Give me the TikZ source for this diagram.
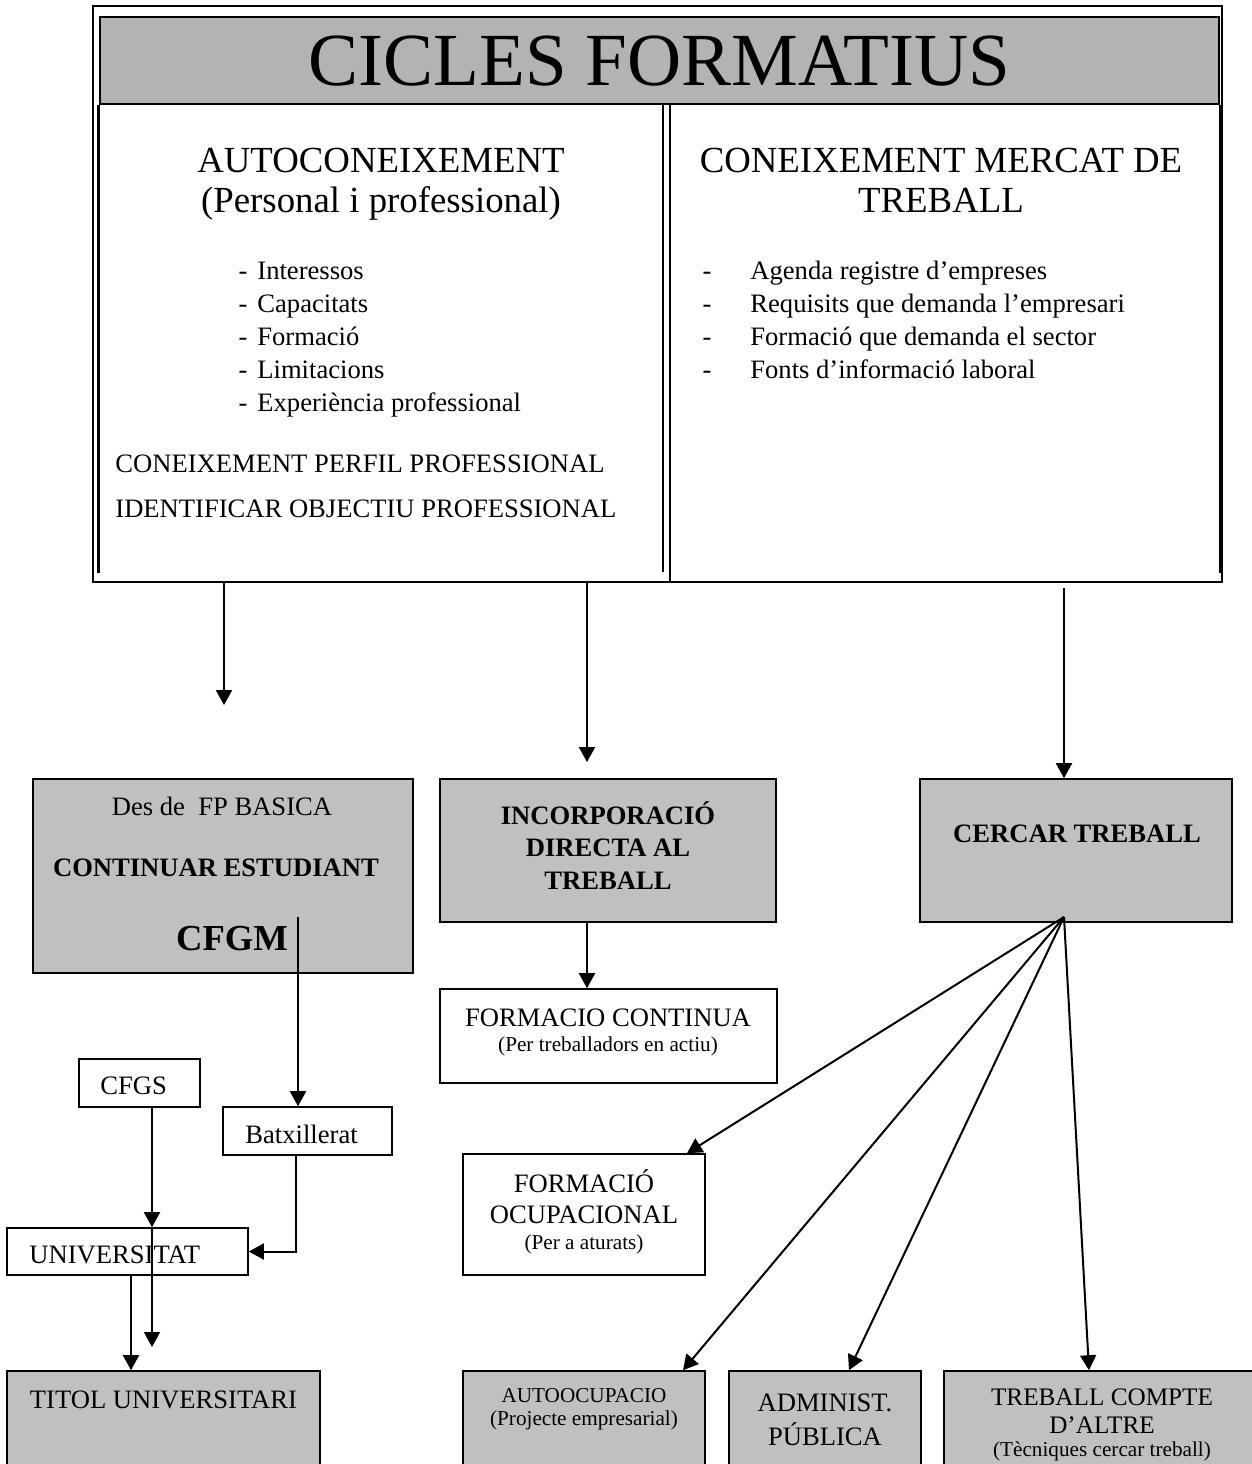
\documentclass[tikz,border=0pt]{standalone}
\usepackage{fontspec}
\setmainfont{Liberation Serif}
\usetikzlibrary{arrows.meta,fit}
\definecolor{hdrgray}{HTML}{B3B3B3}
\definecolor{boxgray}{HTML}{C0C0C0}
\tikzset{
 frameline/.style={line width=1.3pt},
 thinline/.style={line width=0.7pt},
 gbox/.style={draw, line width=0.8pt, fill=boxgray, inner sep=0pt},
 wbox/.style={draw, line width=0.8pt, fill=white, inner sep=0pt},
 arr/.style={line width=1pt, -{Triangle[length=7.5pt,width=8pt]}},
 bodytxt/.style={anchor=base, inner sep=0pt, font=\fontsize{13.3}{16}\selectfont},
 bodyl/.style={anchor=base west, inner sep=0pt, font=\fontsize{13.3}{16}\selectfont},
 bigtxt/.style={anchor=base, inner sep=0pt, font=\fontsize{18.4}{22}\selectfont},
 smalltxt/.style={anchor=base, inner sep=0pt, font=\fontsize{10.6}{13}\selectfont},
 boldtxt/.style={anchor=base, inner sep=0pt, font=\fontsize{13.3}{16}\selectfont\bfseries},
}
\begin{document}
\begin{tikzpicture}[x=0.5pt,y=-0.5pt]
\useasboundingbox (0,0) rectangle (1252,1464);
% ---- top frame ----
\node[fit={(93,6) (1222,582)}, draw, thinline, inner sep=0pt] (outer) {};
\node[fit={(100,17) (1219,104)}, draw, frameline, fill=hdrgray, inner sep=0pt] (hdr) {};
\draw[frameline] (hdr.south west) -- ++(0,468);
\draw[frameline] (hdr.south east) -- ++(0,468);
\draw[frameline] (663,104) -- (663,572);
\draw[thinline] (670,104) -- (670,582);
\node[anchor=base, inner sep=0pt, font=\fontsize{37.5}{44}\selectfont] (title) at (659.5,85) {CICLES FORMATIUS};
% left column
\node[bigtxt] (lh1) at (381,172) {AUTOCONEIXEMENT};
\node[bigtxt] (lh2) at (381,212) {(Personal i professional)};
\node[bodytxt] (ld1) at (243,279) {-};
\node[bodyl] (lb1) at (257,279) {Interessos};
\node[bodytxt] (ld2) at (243,312) {-};
\node[bodyl] (lb2) at (257,312) {Capacitats};
\node[bodytxt] (ld3) at (243,345) {-};
\node[bodyl] (lb3) at (257,345) {Formació};
\node[bodytxt] (ld4) at (243,378) {-};
\node[bodyl] (lb4) at (257,378) {Limitacions};
\node[bodytxt] (ld5) at (243,411) {-};
\node[bodyl] (lb5) at (257,411) {Experiència professional};
\node[bodyl] (ls1) at (115,472) {CONEIXEMENT PERFIL PROFESSIONAL};
\node[bodyl] (ls2) at (115,517) {IDENTIFICAR OBJECTIU PROFESSIONAL};
% right column
\node[bigtxt] (rh1) at (941,172) {CONEIXEMENT MERCAT DE};
\node[bigtxt] (rh2) at (941,212) {TREBALL};
\node[bodytxt] (rd1) at (707,279) {-};
\node[bodyl] (rb1) at (750,279) {Agenda registre d’empreses};
\node[bodytxt] (rd2) at (707,312) {-};
\node[bodyl] (rb2) at (750,312) {Requisits que demanda l’empresari};
\node[bodytxt] (rd3) at (707,345) {-};
\node[bodyl] (rb3) at (750,345) {Formació que demanda el sector};
\node[bodytxt] (rd4) at (707,378) {-};
\node[bodyl] (rb4) at (750,378) {Fonts d’informació laboral};
% ---- boxes ----
\node[gbox, fit={(33,779) (413,973)}] (cont) {};
\node[gbox, fit={(440,779) (776,922)}] (inc) {};
\node[gbox, fit={(920,779) (1232,922)}] (cerc) {};
\node[wbox, fit={(440,989) (777,1083)}] (fc) {};
\node[wbox, fit={(79,1059) (200,1107)}] (cfgs) {};
\node[wbox, fit={(223,1107) (392,1155)}] (batx) {};
\node[wbox, fit={(7,1228) (248,1275)}] (univ) {};
\node[wbox, fit={(463,1154) (705,1275)}] (fo) {};
\node[gbox, fit={(7,1371) (320,1480)}] (titol) {};
\node[gbox, fit={(463,1371) (705,1480)}] (auto) {};
\node[gbox, fit={(729,1371) (921,1480)}] (adm) {};
\node[gbox, fit={(944,1371) (1270,1480)}] (treb) {};
% box texts
\node[bodytxt] (c1) at (222,815) {Des de~ FP BASICA};
\node[boldtxt] (c2) at (216,876) {CONTINUAR ESTUDIANT};
\node[anchor=base, inner sep=0pt, font=\fontsize{18.3}{22}\selectfont\bfseries] (c3) at (232,950) {CFGM};
\node[boldtxt] (i1) at (608,824) {INCORPORACIÓ};
\node[boldtxt] (i2) at (608,856) {DIRECTA AL};
\node[boldtxt] (i3) at (608,889) {TREBALL};
\node[boldtxt] (ct) at (1077,842) {CERCAR TREBALL};
\node[bodytxt] (f1) at (608,1026) {FORMACIO CONTINUA};
\node[smalltxt] (f2) at (608,1051) {(Per treballadors en actiu)};
\node[bodyl] (cg) at (100,1094) {CFGS};
\node[bodyl] (bt) at (245,1143) {Batxillerat};
\node[bodyl] (un) at (29,1263) {UNIVERSITAT};
\node[bodytxt] (o1) at (584,1192) {FORMACIÓ};
\node[bodytxt] (o2) at (584,1223) {OCUPACIONAL};
\node[smalltxt] (o3) at (584,1249) {(Per a aturats)};
\node[bodytxt] (tu) at (163.5,1408) {TITOL UNIVERSITARI};
\node[smalltxt] (a1) at (584,1402) {AUTOOCUPACIO};
\node[smalltxt] (a2) at (584,1425) {(Projecte empresarial)};
\node[bodytxt] (p1) at (825,1411) {ADMINIST.};
\node[bodytxt] (p2) at (825,1445) {PÚBLICA};
\node[anchor=base, inner sep=0pt, font=\fontsize{12.6}{15}\selectfont] (w1) at (1102,1405) {TREBALL COMPTE};
\node[anchor=base, inner sep=0pt, font=\fontsize{12.6}{15}\selectfont] (w2) at (1102,1433) {D’ALTRE};
\node[smalltxt] (w3) at (1102,1456) {(Tècniques cercar treball)};
% ---- connectors ----
\coordinate (a1e) at (224,705);
\coordinate (a2e) at (587,762);
\coordinate (a3s) at (1064,588);
\draw[arr] (outer.south -| a1e) -- (a1e);
\draw[arr] (outer.south -| a2e) -- (a2e);
\draw[arr] (a3s) -- (a3s |- cerc.north);
\coordinate (x587) at (587,0);
\draw[arr] (inc.south -| x587) -- (fc.north -| x587);
\coordinate (cf) at (298,917);
\draw[arr] (cf) -- (cf |- batx.north);
\coordinate (x152) at (152,0);
\coordinate (uend) at (152,1347);
\draw[arr] (cfgs.south -| x152) -- (univ.north -| x152);
\draw[arr] (univ.north -| x152) -- (uend);
\coordinate (x296) at (296,0);
\draw[arr] (batx.south -| x296) |- (univ.east);
\coordinate (x131) at (131,0);
\draw[arr] (univ.south -| x131) -- (titol.north -| x131);
\coordinate (fan) at (1064,917);
\coordinate (x687) at (687,0);
\coordinate (x683) at (683,0);
\coordinate (x849) at (849,0);
\coordinate (x1089) at (1089,0);
\draw[arr] (fan) -- (fo.north -| x687);
\draw[arr] (fan) -- (auto.north -| x683);
\draw[arr] (fan) -- (adm.north -| x849);
\draw[arr] (fan) -- (treb.north -| x1089);
\end{tikzpicture}
\end{document}
